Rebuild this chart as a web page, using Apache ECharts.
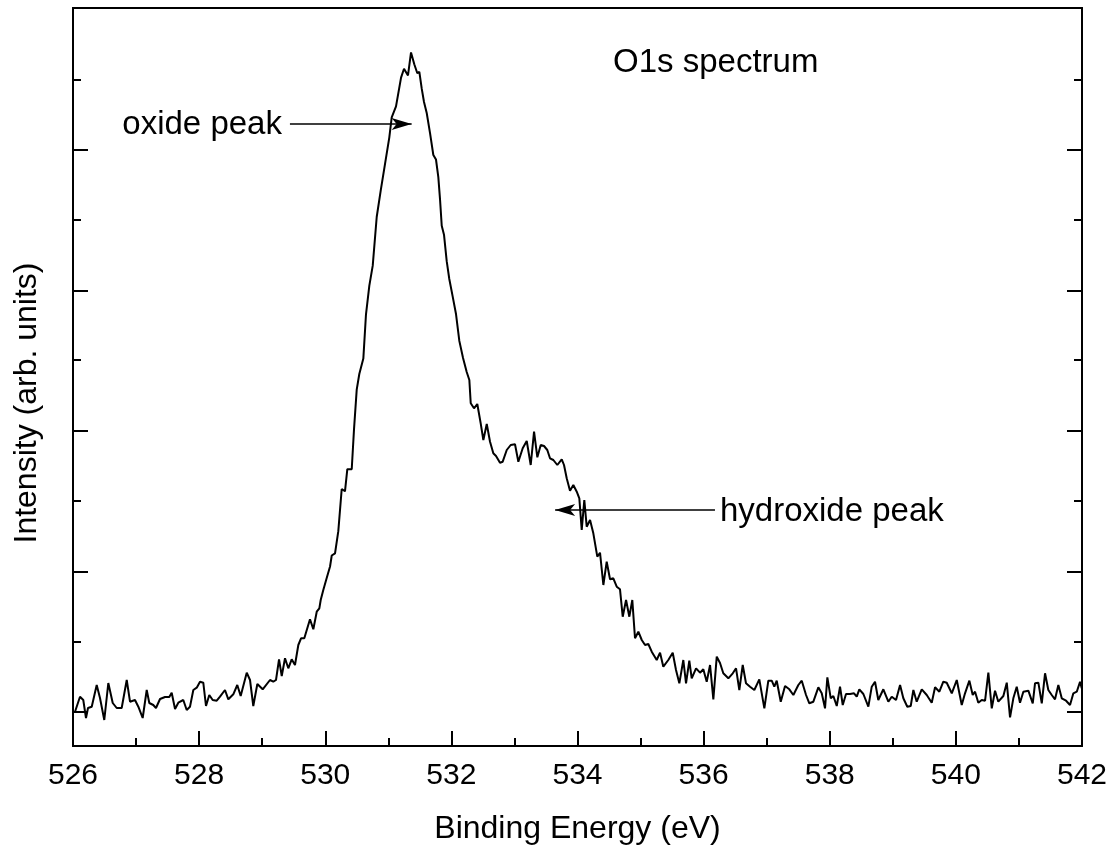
<!DOCTYPE html>
<html>
<head>
<meta charset="utf-8">
<script src="https://cdn.jsdelivr.net/npm/echarts@6/dist/echarts.min.js"></script>
<style>
html,body{margin:0;padding:0;background:#fff;}
#chart{width:1114px;height:853px;}
</style>
</head>
<body>
<div id="chart"></div>
<script>
// Binding energy (eV)
const energy = [
526.032,526.111,526.163,526.206,526.238,526.297,526.376,526.428,526.496,526.560,
526.630,526.693,526.772,526.852,526.904,526.983,527.036,527.105,527.169,527.210,
527.273,527.316,527.380,527.459,527.527,527.565,527.618,527.670,527.749,527.803,
527.855,527.908,527.962,528.014,
528.066,528.109,528.161,528.215,528.279,528.331,528.410,528.463,528.542,528.605,
528.659,528.755,528.807,528.859,528.923,529.008,529.124,529.176,529.219,529.267,
529.310,529.362,529.414,529.468,529.520,529.573,529.616,529.668,529.758,529.811,
529.865,529.906,529.928,529.969,530.023,
530.076,530.103,530.155,530.207,530.261,530.313,530.350,530.420,530.456,530.499,
530.540,530.604,530.646,530.699,530.753,530.816,530.880,530.948,531.016,531.054,
531.122,531.202,531.249,531.312,531.360,531.412,531.460,531.492,531.530,531.566,
531.609,531.661,531.714,531.756,531.793,531.820,531.847,531.883,531.926,531.967,
532.021,532.074,532.126,532.185,532.243,
532.285,532.307,532.359,532.411,532.465,532.507,532.561,532.613,532.665,532.708,
532.771,532.814,532.878,532.941,533.009,533.062,533.131,533.195,533.258,533.311,
533.363,533.417,533.469,533.521,533.564,533.617,533.680,533.750,533.786,533.829,
533.881,533.934,533.988,534.029,534.067,534.108,534.146,534.199,
534.251,534.314,534.357,534.410,534.463,534.516,534.568,534.622,534.674,534.717,
534.770,534.822,534.869,534.912,534.965,535.019,535.071,535.123,535.177,535.256,
535.309,535.361,535.440,535.510,535.562,535.615,535.678,535.721,535.773,535.811,
535.880,535.943,535.995,536.049,536.102,536.154,536.208,536.260,
536.312,536.392,536.462,536.514,536.566,536.620,536.672,536.736,536.804,536.883,
536.963,537.026,537.080,537.121,537.159,537.223,537.291,537.359,537.423,537.502,
537.556,537.624,537.676,537.740,537.819,537.873,537.925,537.962,538.016,538.057,
538.111,538.163,538.206,538.258,538.322,
538.385,538.428,538.469,538.533,538.612,538.666,538.718,538.770,538.850,538.929,
538.983,539.051,539.115,539.167,539.230,539.284,539.326,539.379,539.459,539.538,
539.617,539.670,539.738,539.801,539.855,539.935,540.014,540.093,
540.145,540.214,540.267,540.304,540.356,540.410,540.463,540.515,540.569,540.621,
540.673,540.753,540.807,540.859,540.911,540.965,541.017,541.070,541.149,541.219,
541.255,541.308,541.362,541.414,541.466,541.520,541.572,541.625,541.679,541.747,
541.810,541.863,541.917,541.969,541.996
];
// Intensity (arb. units)
const intensity = [
333,483,450,270,370,383,600,470,250,620,
420,370,370,650,433,450,383,270,550,420,
400,370,460,480,480,523,360,423,450,350,
383,550,573,633,
623,390,500,450,443,483,550,457,507,600,
490,723,650,390,610,557,650,633,650,857,
690,867,767,857,800,1000,1067,1067,1257,1157,
1333,1367,1450,1550,1670,
1785,1895,1917,2138,2560,2537,2758,2758,3156,3554,
3710,3864,4307,4594,4793,5280,5546,5811,6077,6276,
6386,6674,6762,6696,6926,6807,6718,6731,6563,6430,
6320,6121,5900,5855,5678,5457,5192,5103,4838,4660,
4484,4307,4041,3870,3730,
3650,3417,3367,3410,3217,3050,3210,3033,2917,2890,
2823,2833,2950,3000,3007,2833,2967,3040,2800,3133,
2877,3000,2990,2950,2867,2850,2800,2857,2800,2667,
2543,2600,2533,2467,2150,2450,2183,2250,
2117,1883,1923,1600,1833,1657,1667,1583,1557,1283,
1450,1283,1450,1067,1133,1050,1000,1010,933,850,
923,783,850,923,750,617,850,617,843,667,
767,723,757,633,800,457,883,820,
717,667,717,767,550,800,617,583,550,657,
367,643,643,583,643,433,590,557,500,600,
643,500,417,433,577,517,367,677,467,490,
390,583,400,510,510,
517,483,557,510,383,583,633,450,557,433,
483,450,600,467,383,390,550,433,557,500,
423,577,533,633,623,517,650,400,
517,643,500,533,423,450,443,723,367,543,
433,490,623,277,467,583,423,533,543,417,
617,623,417,717,550,500,457,600,467,443,
400,517,533,633,567
];
// Unlabelled intensity ticks
const yMajorTicks = [330, 1735, 3140, 4545, 5950];
const yMinorTicks = [1030, 2440, 3850, 5250, 6650];
// Annotations: [text, energy start, energy end (arrow tip), intensity]
const oxideArrow = ['oxide peak', 529.44, 531.37, 6210];
const hydroxideArrow = ['hydroxide peak', 536.18, 533.645, 2350];
const titleText = 'O1s spectrum';
const xName = 'Binding Energy (eV)';
const yName = 'Intensity (arb. units)';

const FONT = '"Liberation Sans", Arial, Helvetica, sans-serif';
const chart = echarts.init(document.getElementById('chart'), null, {renderer: 'canvas'});
const data = energy.map((e, i) => [e, intensity[i]]);
const yMin = -10, yMax = 7370;

function yAxisDef(pos, ticks, len) {
  return {
    type: 'value', position: pos, min: yMin, max: yMax,
    axisLine: {show: true, onZero: false, lineStyle: {color: '#000', width: 2}},
    axisTick: {show: true, inside: true, length: len, customValues: ticks, lineStyle: {color: '#000', width: 2}},
    axisLabel: {show: false},
    splitLine: {show: false}
  };
}

const option = {
  animation: false,
  backgroundColor: '#fff',
  grid: {left: 73, right: 32, top: 8, bottom: 107, containLabel: false},
  xAxis: [{
    type: 'value', position: 'bottom', min: 526, max: 542, interval: 2,
    name: xName, nameLocation: 'middle', nameGap: 67,
    nameTextStyle: {fontFamily: FONT, fontSize: 32, color: '#000'},
    axisLine: {show: true, onZero: false, lineStyle: {color: '#000', width: 2}},
    axisTick: {show: true, inside: true, length: 15, lineStyle: {color: '#000', width: 2}},
    minorTick: {show: true, splitNumber: 2, length: 8, lineStyle: {color: '#000', width: 2}},
    axisLabel: {show: true, margin: 15, fontFamily: FONT, fontSize: 30, color: '#000'},
    splitLine: {show: false}, minorSplitLine: {show: false}
  }, {
    type: 'value', position: 'top', min: 526, max: 542, interval: 2,
    axisLine: {show: true, onZero: false, lineStyle: {color: '#000', width: 2}},
    axisTick: {show: false}, axisLabel: {show: false}, splitLine: {show: false}
  }],
  yAxis: [
    yAxisDef('left', yMajorTicks, 15),
    yAxisDef('left', yMinorTicks, 8),
    yAxisDef('right', yMajorTicks, 15),
    yAxisDef('right', yMinorTicks, 8)
  ],
  series: [{
    type: 'line', xAxisIndex: 0, yAxisIndex: 0,
    data: data, showSymbol: false, symbol: 'none',
    lineStyle: {color: '#000', width: 2}, silent: true,
    markLine: {
      silent: true, animation: false,
      symbol: ['none', 'arrow'], symbolSize: [9, 20],
      lineStyle: {color: '#000', width: 1.6, type: 'solid'},
      label: {show: false},
      data: [
        [{coord: [oxideArrow[1], oxideArrow[3]]}, {coord: [oxideArrow[2], oxideArrow[3]]}],
        [{coord: [hydroxideArrow[1], hydroxideArrow[3]]}, {coord: [hydroxideArrow[2], hydroxideArrow[3]]}]
      ]
    }
  }]
};
chart.setOption(option);

// Text annotations positioned from data coordinates
const pO = chart.convertToPixel({xAxisIndex: 0, yAxisIndex: 0}, [oxideArrow[1], oxideArrow[3]]);
const pH = chart.convertToPixel({xAxisIndex: 0, yAxisIndex: 0}, [hydroxideArrow[1], hydroxideArrow[3]]);
chart.setOption({
  graphic: [
    {type: 'text', x: 613, y: 63, silent: true,
     style: {text: titleText, fontFamily: FONT, fontSize: 33, fill: '#000', verticalAlign: 'middle'}},
    {type: 'text', x: pO[0] - 8, y: pO[1] + 1, silent: true,
     style: {text: oxideArrow[0], fontFamily: FONT, fontSize: 33, fill: '#000', align: 'right', verticalAlign: 'middle'}},
    {type: 'text', x: pH[0] + 5, y: pH[1] + 2, silent: true,
     style: {text: hydroxideArrow[0], fontFamily: FONT, fontSize: 33, fill: '#000', verticalAlign: 'middle'}},
    {type: 'text', x: 27, y: 403, rotation: Math.PI / 2, silent: true,
     style: {text: yName, fontFamily: FONT, fontSize: 32, fill: '#000', align: 'center', verticalAlign: 'middle'}}
  ]
});
</script>
</body>
</html>
